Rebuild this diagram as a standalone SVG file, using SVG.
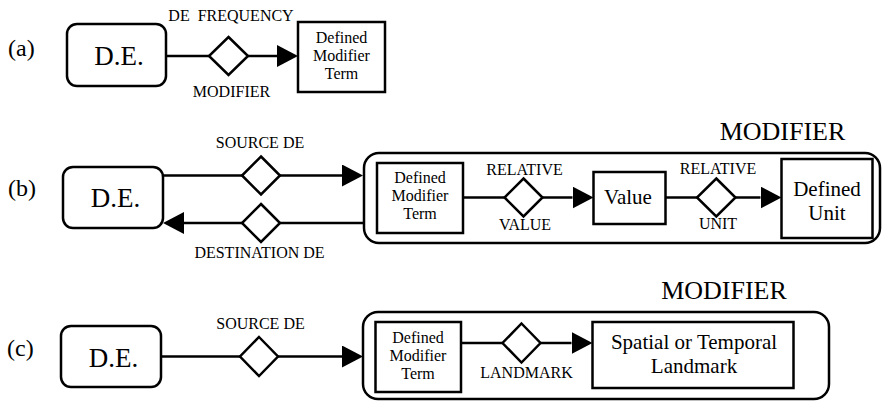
<svg xmlns="http://www.w3.org/2000/svg" width="882" height="401" viewBox="0 0 882 401">
<defs>
<style>
.box{fill:#fff;stroke:#000;stroke-width:2.5}
.outer{fill:none;stroke:#000;stroke-width:2.5}
.dia{fill:#fff;stroke:#000;stroke-width:2.5}
.ln{fill:none;stroke:#000;stroke-width:2.5}
text{font-family:"Liberation Serif","Times New Roman",serif;fill:#000}
.lbl{font-size:16px;text-anchor:middle}
.de{font-size:27px;text-anchor:middle}
.tag{font-size:24px}
.mt{font-size:16px;text-anchor:middle}
.big{font-size:21px;text-anchor:middle}
.mod{font-size:26px;text-anchor:middle}
</style>
<marker id="ah" viewBox="0 0 21 22" refX="0" refY="11" markerWidth="21" markerHeight="22" markerUnits="userSpaceOnUse" orient="auto"><path d="M0,0 L21,11 L0,22 Z" fill="#000"/></marker>
</defs>
<rect width="882" height="401" fill="#fff"/>

<g id="tags">
<text class="tag" x="8" y="56">(a)</text>
<text class="tag" x="8" y="196">(b)</text>
<text class="tag" x="7" y="356">(c)</text>
</g>

<g id="connectors">
<path class="ln" d="M166,56 H209"/>
<path class="ln" d="M248,56 H277" marker-end="url(#ah)"/>
<path class="ln" d="M163,175.5 H242"/>
<path class="ln" d="M280,175.5 H342" marker-end="url(#ah)"/>
<path class="ln" d="M364,223 H280"/>
<path class="ln" d="M242,223 H184" marker-end="url(#ah)"/>
<path class="ln" d="M463,197.5 H504.5"/>
<path class="ln" d="M542.5,197.5 H572.5" marker-end="url(#ah)"/>
<path class="ln" d="M665.5,197.5 H697"/>
<path class="ln" d="M735.5,197.5 H760.5" marker-end="url(#ah)"/>
<path class="ln" d="M161,356.5 H240"/>
<path class="ln" d="M278,356.5 H342" marker-end="url(#ah)"/>
<path class="ln" d="M461,343 H502.5"/>
<path class="ln" d="M540.5,343 H571.5" marker-end="url(#ah)"/>
</g>

<!-- (a) -->
<g id="a-de"><rect class="box" x="67" y="24" width="99" height="62" rx="10"/><text class="de" x="119" y="65">D.E.</text></g>
<g id="a-rel"><polygon class="dia" points="228.5,37 248,56 228.5,75 209,56"/>
<text class="lbl" x="231" y="21" xml:space="preserve">DE  FREQUENCY</text>
<text class="lbl" x="231.5" y="97">MODIFIER</text></g>
<g id="a-dmt"><rect class="box" x="298" y="22" width="87" height="70"/>
<text class="mt" x="341.5" y="42.5">Defined</text><text class="mt" x="341.5" y="60.5">Modifier</text><text class="mt" x="341.5" y="78.5">Term</text></g>

<!-- (b) -->
<g id="b-de"><rect class="box" x="63" y="167" width="100" height="61" rx="10"/><text class="de" x="115.5" y="207">D.E.</text></g>
<g id="b-src"><polygon class="dia" points="261,156.5 280,175.5 261,194.5 242,175.5"/><text class="lbl" x="260" y="147.5">SOURCE DE</text></g>
<g id="b-dst"><polygon class="dia" points="261,204 280,223 261,242 242,223"/><text class="lbl" x="259.5" y="258">DESTINATION DE</text></g>
<g id="b-modifier"><rect class="outer" x="364" y="153" width="516" height="90" rx="15"/><text class="mod" x="782.5" y="139.5">MODIFIER</text></g>
<g id="b-dmt"><rect class="box" x="377" y="163" width="86" height="70"/>
<text class="mt" x="420" y="183">Defined</text><text class="mt" x="420" y="201">Modifier</text><text class="mt" x="420" y="219">Term</text></g>
<g id="b-relval"><polygon class="dia" points="523.5,178.5 542.5,197.5 523.5,216.5 504.5,197.5"/>
<text class="lbl" x="524.5" y="175">RELATIVE</text><text class="lbl" x="525" y="230">VALUE</text></g>
<g id="b-value"><rect class="box" x="593.5" y="172" width="72" height="52"/><text class="big" x="628" y="203.5">Value</text></g>
<g id="b-relunit"><polygon class="dia" points="716.3,178.5 735.5,197.5 716.3,216.5 697,197.5"/>
<text class="lbl" x="718" y="174">RELATIVE</text><text class="lbl" x="718" y="229">UNIT</text></g>
<g id="b-unit"><rect class="box" x="781.5" y="159" width="91" height="79"/>
<text class="big" x="827" y="196">Defined</text><text class="big" x="827" y="220">Unit</text></g>

<!-- (c) -->
<g id="c-de"><rect class="box" x="61" y="326" width="100" height="61" rx="10"/><text class="de" x="113.5" y="367">D.E.</text></g>
<g id="c-src"><polygon class="dia" points="259,337 278,356.5 259,376 240,356.5"/><text class="lbl" x="260.5" y="329">SOURCE DE</text></g>
<g id="c-modifier"><rect class="outer" x="363" y="312" width="466" height="87" rx="15"/><text class="mod" x="724" y="299">MODIFIER</text></g>
<g id="c-dmt"><rect class="box" x="375.5" y="322" width="85.5" height="70"/>
<text class="mt" x="418" y="343">Defined</text><text class="mt" x="418" y="361">Modifier</text><text class="mt" x="418" y="379">Term</text></g>
<g id="c-rel"><polygon class="dia" points="521.5,323.5 540.5,343 521.5,362.5 502.5,343"/><text class="lbl" x="526.5" y="377.5">LANDMARK</text></g>
<g id="c-landmark"><rect class="box" x="592.5" y="322" width="201" height="66"/>
<text class="big" x="694" y="349">Spatial or Temporal</text><text class="big" x="694" y="373">Landmark</text></g>
</svg>
